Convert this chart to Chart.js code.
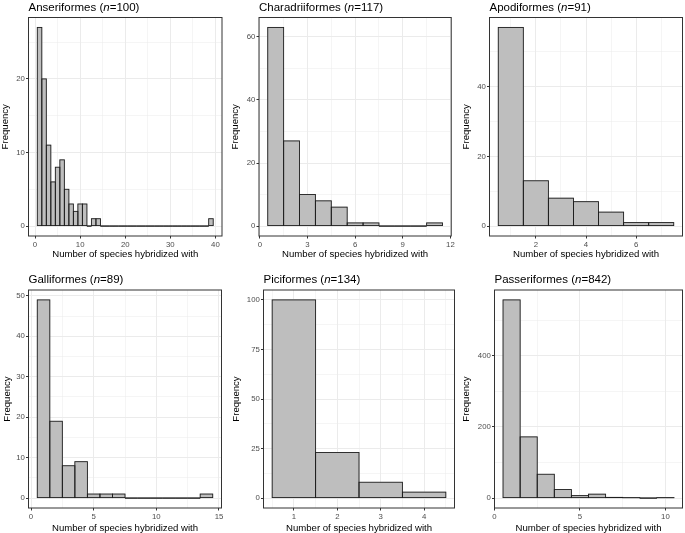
<!DOCTYPE html>
<html>
<head>
<meta charset="utf-8">
<script src="https://cdn.jsdelivr.net/npm/chart.js@4.4.1/dist/chart.umd.min.js"></script>
<style>
  html, body { margin: 0; padding: 0; background: #fff; }
  #wrap { position: relative; width: 685px; height: 533px; overflow: hidden; font-family: "Liberation Sans", Arial, sans-serif; }
  canvas { position: absolute; }
  .ttl { position: absolute; font-size: 11.5px; line-height: 11.5px; color: #000; white-space: nowrap; }
</style>
</head>
<body>
<div id="wrap"></div>
<script>
// === DATA ===
const orderNames = ["Anseriformes", "Charadriiformes", "Apodiformes", "Galliformes", "Piciformes", "Passeriformes"];
const sampleSizes = [100, 117, 91, 89, 134, 842];

// frequency per bin, first bin = hybridized with 1 species
const anseriformesCounts = [27, 20, 11, 6, 8, 9, 5, 3, 2, 3, 3, 0, 1, 1,
  0, 0, 0, 0, 0, 0, 0, 0, 0, 0, 0, 0,
  0, 0, 0, 0, 0, 0, 0, 0, 0, 0, 0, 0, 1];
const charadriiformesCounts = [63, 27, 10, 8, 6, 1, 1, 0, 0, 0, 1];
const apodiformesCounts = [57, 13, 8, 7, 4, 1, 1];
const galliformesCounts = [49, 19, 8, 9, 1, 1, 1, 0, 0, 0, 0, 0, 0, 1];
const piciformesCounts = [100, 23, 8, 3];
const passeriformesCounts = [557, 172, 67, 24, 7, 11, 2, 1, 0, 1];

const allCounts = [anseriformesCounts, charadriiformesCounts, apodiformesCounts,
  galliformesCounts, piciformesCounts, passeriformesCounts];

// tick labels (major) and minor grid breaks
const xTicks = [[0, 10, 20, 30, 40], [0, 3, 6, 9, 12], [2, 4, 6], [0, 5, 10, 15], [1, 2, 3, 4], [0, 5, 10]];
const xMinor = [[5, 15, 25, 35], [1.5, 4.5, 7.5, 10.5], [1, 3, 5, 7], [2.5, 7.5, 12.5], [0.5, 1.5, 2.5, 3.5, 4.5], [2.5, 7.5]];
const yTicks = [[0, 10, 20], [0, 20, 40, 60], [0, 20, 40], [0, 10, 20, 30, 40, 50], [0, 25, 50, 75, 100], [0, 200, 400]];
const yMinor = [[5, 15, 25], [10, 30, 50], [10, 30, 50], [5, 15, 25, 35, 45], [12.5, 37.5, 62.5, 87.5], [100, 300, 500]];

const xTitle = "Number of species hybridized with";
const yTitle = "Frequency";

// === LAYOUT ===
const cols = [{ l: 0, w: 228 }, { l: 228, w: 228 }, { l: 456, w: 229 }];
const rows = [{ t: 0, h: 265 }, { t: 265, h: 268 }];
const plotBoxes = [
  { l: 28.5, r: 222, t: 17.5, b: 236 },
  { l: 259, r: 453, t: 17.5, b: 236 },
  { l: 489.5, r: 682.5, t: 17.5, b: 236 },
  { l: 28.5, r: 221.5, t: 290, b: 508 },
  { l: 263.5, r: 454.5, t: 290, b: 508 },
  { l: 494.5, r: 682.5, t: 290, b: 508 }
];
const yTitleX = [5.5, 235.3, 466.7, 7.5, 236.3, 466.7];
const xTitleY = [254.5, 528];
const titleBaseline = [11.5, 284];

const FONT = '"Liberation Sans", Arial, sans-serif';
Chart.defaults.font.family = FONT;

// outline bars like ggplot (zero bins become a flat line) + panel border on top
const outlinePlugin = {
  id: "outline",
  afterDatasetsDraw(chart) {
    const ctx = chart.ctx;
    const meta = chart.getDatasetMeta(0);
    ctx.save();
    ctx.strokeStyle = "#1e1e1e";
    ctx.lineWidth = 0.9;
    meta.data.forEach(bar => {
      const p = bar.getProps(["x", "y", "base", "width"], true);
      ctx.strokeRect(p.x - p.width / 2, p.y, p.width, p.base - p.y);
    });
    const a = chart.chartArea;
    ctx.strokeStyle = "#333333";
    ctx.lineWidth = 1;
    ctx.strokeRect(a.left, a.top, a.right - a.left, a.bottom - a.top);
    ctx.restore();
  }
};

function axisOptions(major, minor, lo, hi, title) {
  const majorSet = new Set(major);
  const isMajor = c => c.tick && majorSet.has(c.tick.value);
  return {
    type: "linear",
    min: lo,
    max: hi,
    offset: false,
    afterBuildTicks: s => {
      s.ticks = major.concat(minor).sort((a, b) => a - b).map(v => ({ value: v }));
    },
    ticks: {
      autoSkip: false,
      maxRotation: 0,
      padding: 1.2,
      color: "#4D4D4D",
      font: { size: 7.8 },
      callback: v => (majorSet.has(v) ? String(v) : "")
    },
    grid: {
      offset: false,
      color: "#EBEBEB",
      lineWidth: c => (isMajor(c) ? 1 : 0.5),
      tickLength: 2.5,
      tickWidth: 1,
      tickColor: c => (isMajor(c) ? "#333333" : "rgba(0,0,0,0)")
    },
    border: { display: false },
    title: { display: true, text: title, color: "#000", font: { size: 9.6 } }
  };
}

function makePanel(i) {
  const col = cols[i % 3];
  const row = rows[Math.floor(i / 3)];
  const rowIdx = Math.floor(i / 3);
  const box = plotBoxes[i];
  const counts = allCounts[i];

  const points = counts.map((c, k) => ({ x: k + 1, y: c }));
  const nBins = counts.length;
  const yMaxVal = Math.max(...counts);
  const xLo = 0.5 - 0.05 * nBins, xHi = nBins + 0.5 + 0.05 * nBins;
  const yLo = -0.05 * yMaxVal, yHi = yMaxVal * 1.05;

  const wrap = document.getElementById("wrap");
  const canvas = document.createElement("canvas");
  canvas.width = col.w;
  canvas.height = row.h;
  canvas.style.left = col.l + "px";
  canvas.style.top = row.t + "px";
  canvas.style.width = col.w + "px";
  canvas.style.height = row.h + "px";
  wrap.appendChild(canvas);

  const ttl = document.createElement("div");
  ttl.className = "ttl";
  ttl.style.left = box.l + "px";
  ttl.style.top = (titleBaseline[rowIdx] - 9.73) + "px";
  ttl.innerHTML = orderNames[i] + " (<i>n</i>=" + sampleSizes[i] + ")";
  wrap.appendChild(ttl);

  const lh = 9.6 * 1.2;
  const xOpts = axisOptions(xTicks[i], xMinor[i], xLo, xHi, xTitle);
  xOpts.title.padding = { top: 0, bottom: row.t + row.h - xTitleY[rowIdx] - lh / 2 };
  xOpts.afterFit = s => { s.height = row.t + row.h - box.b; };
  const yOpts = axisOptions(yTicks[i], yMinor[i], yLo, yHi, yTitle);
  yOpts.title.padding = { top: yTitleX[i] - col.l - lh / 2, bottom: 0 };
  yOpts.afterFit = s => { s.width = box.l - col.l; };

  new Chart(canvas.getContext("2d"), {
    type: "bar",
    data: {
      datasets: [{
        data: points,
        backgroundColor: "#BEBEBE",
        borderWidth: 0,
        barThickness: "flex",
        barPercentage: 1,
        categoryPercentage: 1
      }]
    },
    options: {
      responsive: false,
      animation: false,
      devicePixelRatio: 1,
      layout: { padding: { left: 0, top: box.t - row.t, right: col.l + col.w - box.r, bottom: 0 } },
      plugins: { legend: { display: false }, tooltip: { enabled: false } },
      scales: { x: xOpts, y: yOpts }
    },
    plugins: [outlinePlugin]
  });
}

document.addEventListener("DOMContentLoaded", () => {
  for (let i = 0; i < orderNames.length; i++) makePanel(i);
});
</script>
</body>
</html>
